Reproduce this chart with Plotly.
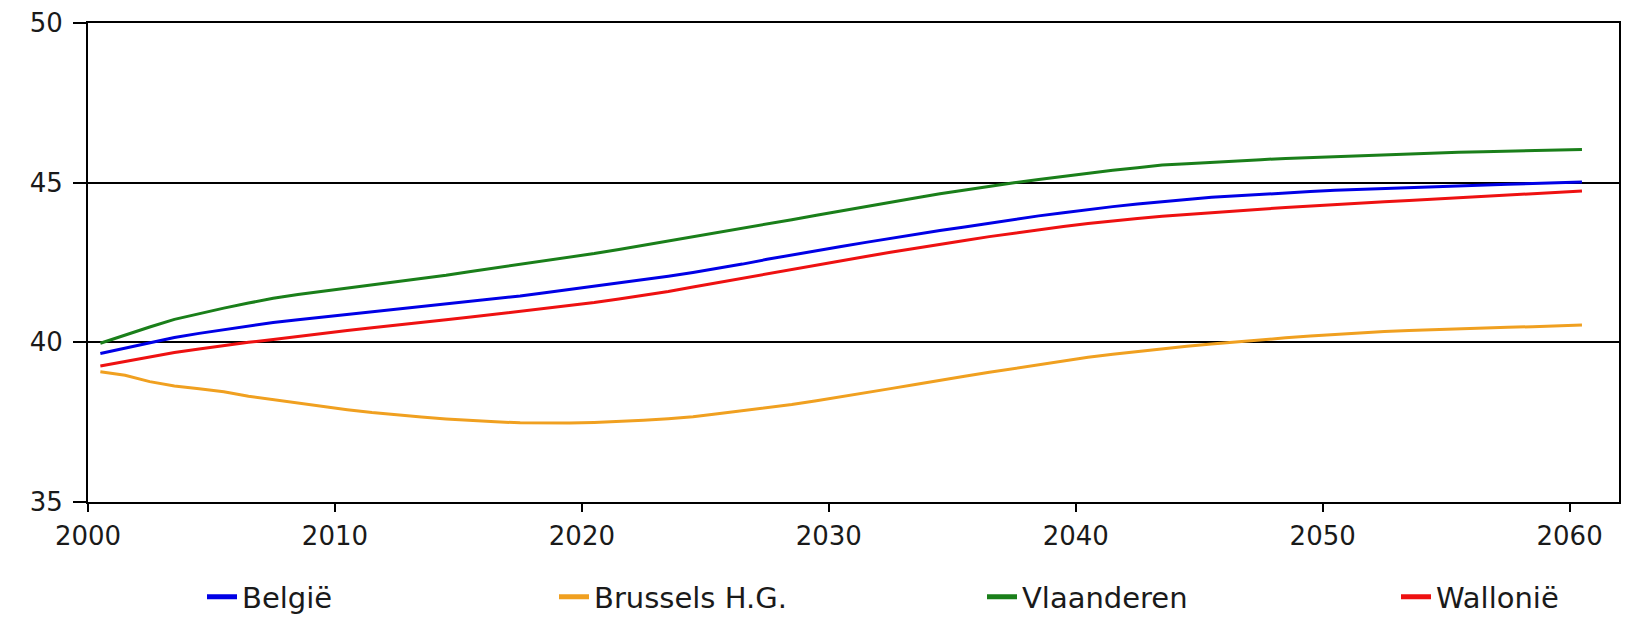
import plotly.graph_objects as go

# Annual values
years = list(range(2000, 2061))

belgie = [39.65, 39.82, 39.99, 40.15, 40.28, 40.40, 40.52, 40.62, 40.71, 40.79,
          40.87, 40.95, 41.03, 41.11, 41.19, 41.27, 41.36, 41.45, 41.55, 41.65,
          41.75, 41.85, 41.96, 42.07, 42.19, 42.31, 42.45, 42.60, 42.74, 42.87,
          43.00, 43.13, 43.26, 43.38, 43.50, 43.61, 43.73, 43.85, 43.96, 44.06,
          44.16, 44.25, 44.33, 44.41, 44.47, 44.54, 44.59, 44.64, 44.68, 44.72,
          44.76, 44.79, 44.82, 44.85, 44.88, 44.90, 44.93, 44.95, 44.97, 44.99,
          45.02]

brussel = [39.08, 38.97, 38.77, 38.63, 38.55, 38.45, 38.31, 38.20, 38.10, 37.99,
           37.89, 37.80, 37.72, 37.66, 37.60, 37.55, 37.51, 37.48, 37.47, 37.47,
           37.49, 37.52, 37.56, 37.61, 37.67, 37.76, 37.85, 37.94, 38.05, 38.17,
           38.29, 38.42, 38.55, 38.68, 38.82, 38.94, 39.06, 39.18, 39.30, 39.42,
           39.53, 39.63, 39.72, 39.80, 39.88, 39.95, 40.02, 40.08, 40.14, 40.20,
           40.25, 40.30, 40.34, 40.37, 40.40, 40.43, 40.45, 40.47, 40.49, 40.51,
           40.54]

vlaanderen = [39.97, 40.23, 40.48, 40.72, 40.90, 41.07, 41.23, 41.38, 41.50, 41.60,
              41.69, 41.79, 41.90, 42.00, 42.10, 42.22, 42.33, 42.44, 42.55, 42.66,
              42.78, 42.91, 43.04, 43.18, 43.31, 43.43, 43.56, 43.70, 43.84, 43.98,
              44.12, 44.26, 44.39, 44.52, 44.65, 44.77, 44.89, 45.00, 45.10, 45.20,
              45.30, 45.39, 45.47, 45.55, 45.59, 45.64, 45.68, 45.72, 45.76, 45.79,
              45.82, 45.85, 45.88, 45.91, 45.93, 45.95, 45.97, 45.99, 46.00, 46.02,
              46.04]

wallonie = [39.26, 39.40, 39.54, 39.68, 39.79, 39.90, 40.00, 40.09, 40.19, 40.28,
            40.37, 40.46, 40.55, 40.63, 40.71, 40.79, 40.88, 40.97, 41.06, 41.15,
            41.25, 41.36, 41.47, 41.59, 41.73, 41.87, 42.01, 42.15, 42.29, 42.43,
            42.56, 42.69, 42.82, 42.95, 43.08, 43.19, 43.31, 43.42, 43.53, 43.63,
            43.72, 43.81, 43.88, 43.95, 44.01, 44.07, 44.12, 44.17, 44.22, 44.27,
            44.32, 44.36, 44.40, 44.44, 44.48, 44.52, 44.56, 44.60, 44.64, 44.69,
            44.74]

series_names = ["België", "Brussels H.G.", "Vlaanderen", "Wallonië"]
series_values = [belgie, brussel, vlaanderen, wallonie]
series_colors = ["#0000e6", "#f0a020", "#1a7f1a", "#ee1111"]

x_tick_vals = [2000, 2010, 2020, 2030, 2040, 2050, 2060]
y_tick_vals = [35, 40, 45, 50]

# annual values are plotted at mid-year (category centres)
x_mid = [y + 0.5 for y in years]

FONT = "DejaVu Sans"
TXT = "#1a1a1a"
BODY = 8                      # default page margin around the plot div
W, H = 1632 - BODY, 617 - BODY

fig = go.Figure()
legend_ids = ["legend", "legend2", "legend3", "legend4"]
legend_text_start_px = [243, 595, 1023, 1437]

for name, vals, col, lid in zip(series_names, series_values, series_colors, legend_ids):
    # data line
    fig.add_trace(go.Scatter(
        x=x_mid, y=vals, mode="lines", name=name,
        line=dict(color=col, width=3),
        showlegend=False, legendgroup=name,
    ))
    # legend entry (thicker key line, as in the reference)
    fig.add_trace(go.Scatter(
        x=[None], y=[None], mode="lines", name=name,
        line=dict(color=col, width=5),
        legend=lid, legendgroup=name, hoverinfo="skip",
    ))

layout_legends = {}
for lid, tx in zip(legend_ids, legend_text_start_px):
    layout_legends[lid] = dict(
        xref="container", yref="container",
        x=(tx - BODY - 41) / W, y=(617 - 597) / H,
        xanchor="left", yanchor="middle",
        orientation="h", bgcolor="rgba(0,0,0,0)",
        font=dict(family=FONT, size=29, color=TXT),
        itemwidth=30,
    )

fig.update_layout(
    width=W, height=H,
    margin=dict(l=88 - BODY, r=1632 - 1619, t=23 - BODY,
                b=617 - 502, autoexpand=False),
    paper_bgcolor="white", plot_bgcolor="white",
    showlegend=True,
    font=dict(family=FONT, size=26, color=TXT),
    **layout_legends,
)

fig.update_xaxes(
    range=[2000, 2062],
    tickvals=x_tick_vals,
    ticktext=[str(v) for v in x_tick_vals],
    ticks="outside", ticklen=8, tickwidth=2, tickcolor="black",
    showline=True, linecolor="black", linewidth=2, mirror=True,
    showgrid=False, zeroline=False, automargin=False,
    tickfont=dict(family=FONT, size=26, color=TXT),
    ticklabelstandoff=2,
)
fig.update_yaxes(
    range=[35, 50],
    tickvals=y_tick_vals,
    ticktext=[str(v) for v in y_tick_vals],
    ticks="outside", ticklen=13, tickwidth=2, tickcolor="black",
    showline=True, linecolor="black", linewidth=2, mirror=True,
    showgrid=True, gridcolor="black", gridwidth=1.5, zeroline=False,
    automargin=False,
    tickfont=dict(family=FONT, size=26, color=TXT),
    ticklabelstandoff=5,
)

fig.write_html("out.html")
